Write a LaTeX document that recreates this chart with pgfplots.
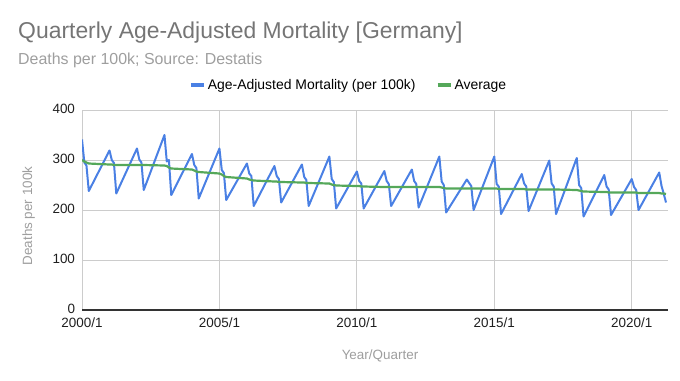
\documentclass[border=0pt]{standalone}
\usepackage{fontspec}
\setmainfont{Liberation Sans}
\usepackage{pgfplots}
\pgfplotsset{compat=1.18}
\usepackage{pgfplotstable}
\definecolor{sblue}{HTML}{4A80E4}
\definecolor{sgreen}{HTML}{55A85A}
\definecolor{titlegray}{HTML}{757575}
\definecolor{subgray}{HTML}{9E9E9E}
\definecolor{gridgray}{HTML}{CCCCCC}
\definecolor{axisdark}{HTML}{333333}
\pgfplotstableread{
x mort avg
2000.000 341 300
2000.085 295 297
2000.162 289 295
2000.247 238 293
2001.000 319 291
2001.085 300 291
2001.162 294 290
2001.247 233 290
2002.000 323 290
2002.085 301 290
2002.162 295 290
2002.247 240 290
2003.000 350 289
2003.085 297 288
2003.162 300 285
2003.247 230 283
2004.000 312 281
2004.085 290 279
2004.162 284 277
2004.247 223 276
2005.000 323 273
2005.085 280 271
2005.162 274 268
2005.247 220 266
2006.000 293 263
2006.085 273 261
2006.162 268 260
2006.247 208 259
2007.000 288 257
2007.085 268 257
2007.162 262 256
2007.247 215 256
2008.000 291 255
2008.085 266 255
2008.162 260 254
2008.247 208 254
2009.000 307 253
2009.085 262 251
2009.162 256 250
2009.247 203 249
2010.000 277 248
2010.085 258 248
2010.162 253 247
2010.247 203 247
2011.000 278 246
2011.085 258 246
2011.162 252 246
2011.247 208 246
2012.000 281 246
2012.085 258 246
2012.162 252 246
2012.247 205 246
2013.000 307 246
2013.085 257 245
2013.162 250 244
2013.247 195 243
2014.000 261 243
2014.085 254 243
2014.162 248 243
2014.247 200 243
2015.000 307 243
2015.085 252 243
2015.162 247 242
2015.247 192 242
2016.000 272 242
2016.085 253 242
2016.162 247 241
2016.247 198 241
2017.000 299 241
2017.085 253 241
2017.162 247 241
2017.247 192 241
2018.000 304 240
2018.085 250 239
2018.162 244 238
2018.247 187 237
2019.000 270 236
2019.085 247 236
2019.162 241 235
2019.247 190 235
2020.000 262 235
2020.085 246 235
2020.162 240 235
2020.247 200 234
2021.000 275 234
2021.085 248 233
2021.162 233 233
2021.247 215 232
}\datatable
\begin{document}
\begin{tikzpicture}[x=1bp,y=1bp]
\path[use as bounding box] (0,0) rectangle (680,-380);
\node[anchor=base west, text=titlegray, inner sep=0, font=\fontsize{23}{27}\selectfont] at (18,-38) {Quarterly Age-Adjusted Mortality [Germany]};
\node[anchor=base west, text=subgray, inner sep=0, font=\fontsize{16}{19}\selectfont] at (18,-64) {Deaths per 100k; Source: Destatis};
\node[anchor=base, text=subgray, inner sep=0, font=\fontsize{13.5}{16}\selectfont] at (380,-359) {Year/Quarter};
\node[anchor=base, rotate=90, text=subgray, inner sep=0, font=\fontsize{13.5}{16}\selectfont] at (32,-216) {Deaths per 100k};
\begin{axis}[
  at={(82bp,-310bp)}, anchor=south west,
  scale only axis, width=586bp, height=200bp,
  xmin=2000, xmax=2021.32, ymin=0, ymax=400,
  xtick={2000,2005,2010,2015,2020},
  xticklabels={2000/1,2005/1,2010/1,2015/1,2020/1},
  ytick={0,100,200,300,400},
  xmajorgrids, ymajorgrids,
  major grid style={draw=gridgray, line width=1bp},
  extra y ticks={0}, extra y tick labels={},
  extra y tick style={major grid style={draw=axisdark, line width=1.6bp}},
  major tick length=0pt,
  axis line style={draw=none},
  /pgf/number format/assume math mode=true,
  tick label style={font=\fontsize{13.5}{16}\selectfont, text=black!88},
  yticklabel style={xshift=-3.5bp, yshift=1.5bp},
  xticklabel style={yshift=-4bp},
  legend style={draw=none, fill=none, at={(0.4548,1.125)}, anchor=center,
    legend columns=2, font=\fontsize{14}{17}\selectfont, inner sep=0pt,
    /tikz/every even column/.append style={column sep=18bp}},
  legend cell align=left,
  legend image code/.code={\draw[line width=4bp] (0bp,0bp) -- (13bp,0bp);},
]
\addplot[sblue, line width=2bp, line join=round] table[x=x, y=mort] {\datatable};
\addlegendentry{Age-Adjusted Mortality (per 100k)}
\addplot[sgreen, line width=2.2bp, line join=round] table[x=x, y=avg] {\datatable};
\addlegendentry{Average}
\end{axis}
\end{tikzpicture}
\end{document}
